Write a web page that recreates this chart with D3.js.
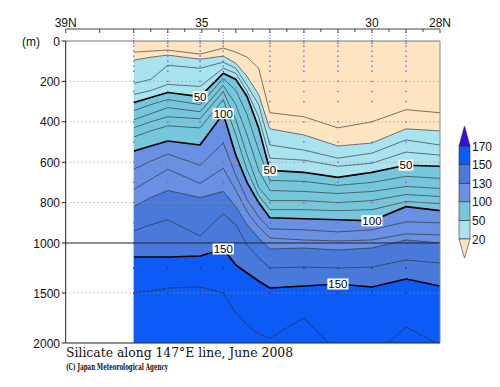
<!DOCTYPE html>
<html><head><meta charset="utf-8">
<script src="https://cdn.jsdelivr.net/npm/d3@7"></script>
<style>body{margin:0;background:#fff}svg{display:block}</style>
</head><body>
<svg id="c" width="500" height="387"></svg>
<script>
// grid nodes along the section (latitude, deg N)
const lats = [37, 36.5, 36, 35.05, 34.37, 34, 33.67, 33.33, 33, 32, 31, 30, 29, 28];
// depth (m) of each silicate isoline at every node
const d10  = [55, 50, 45, 65, 35, 55, 80, 135, 355, 375, 430, 400, 340, 355];
const d20  = [95, 80, 70, 90, 75, 110, 175, 265, 435, 465, 520, 505, 435, 445];
const d30  = [210, 190, 120, 135, 105, 135, 220, 315, 515, 540, 580, 555, 490, 515];
const d40  = [265, 245, 215, 225, 135, 160, 250, 375, 580, 590, 620, 605, 550, 565];
const d50  = [305, 280, 255, 275, 160, 190, 275, 430, 640, 650, 675, 650, 615, 620];
const d60  = [345, 315, 290, 315, 185, 245, 365, 540, 690, 695, 715, 700, 670, 680];
const d70  = [390, 360, 330, 350, 220, 315, 465, 640, 740, 745, 755, 745, 720, 730];
const d80  = [430, 400, 375, 385, 250, 390, 565, 725, 790, 790, 800, 790, 760, 770];
const d90  = [475, 445, 420, 430, 290, 465, 640, 765, 835, 835, 840, 835, 795, 805];
const d100 = [545, 520, 495, 515, 360, 565, 700, 800, 875, 880, 885, 890, 820, 840];
const d110 = [635, 595, 560, 615, 505, 665, 785, 870, 930, 935, 945, 935, 895, 900];
const d120 = [735, 685, 635, 705, 630, 740, 845, 920, 975, 985, 990, 985, 955, 960];
const d130 = [820, 775, 740, 775, 745, 820, 910, 975, 1060, 1050, 1070, 1050, 985, 1000];
const d140 = [940, 910, 885, 965, 855, 910, 1020, 1150, 1250, 1240, 1250, 1240, 1170, 1200];
const d150 = [1140, 1140, 1140, 1130, 1060, 1220, 1300, 1380, 1450, 1430, 1410, 1440, 1360, 1430];
const d160 = [1500, 1480, 1450, 1440, 1500, 1700, 1820, 1910, 1950, 1750, 2100, 2150, 1840, 2020];
const levels = [10, 20, 30, 40, 50, 60, 70, 80, 90, 100, 110, 120, 130, 140, 150, 160];
const isolines = [d10, d20, d30, d40, d50, d60, d70, d80, d90, d100, d110, d120, d130, d140, d150, d160];

// observation stations and sampled depths
const stations = [37, 36, 35.05, 34.37, 33, 32, 31, 30, 29];
const sampleDepths = [0, 10, 25, 50, 75, 100, 125, 150, 200, 250, 300, 400, 500, 600, 700, 800, 900, 1000, 1250, 1500];

// axes
const xLabelLats = [39, 35, 30, 28];
const xLabelTexts = ["39N", "35", "30", "28N"];
const xMajorTicks = [39, 38, 37, 36, 35, 34, 33, 32, 31, 30, 29, 28];
const xMinorTicks = [36.5, 35.5, 34.5, 33.5, 32.5, 31.5, 30.5, 29.5, 28.5];
const yTicks = [0, 200, 400, 600, 800, 1000, 1500, 2000];
const gridDepths = [200, 400, 600, 800, 1500];

// colour bands
const bandBounds = [20, 50, 100, 130, 150, 170];
const bandColors = ["#fde5c1", "#aae3f0", "#77c7dc", "#6990e2", "#497adb", "#0c5bf6", "#3d08e6"];

// contour labels
const labelLevels = [50, 100, 50, 50, 100, 150, 150];
const labelLats = [35.05, 34.37, 33, 29, 30, 34.37, 31];

const svg = d3.select("#c");
const x = d3.scaleLinear().domain([39, 28]).range([65.7, 440]);
const y = d3.scaleLinear().domain([0, 1000, 2000]).range([41, 243, 343]);
const X0 = x(37), X1 = x(28), Y0 = y(0), Y1 = y(2000);

svg.append("defs").append("clipPath").attr("id", "pc")
  .append("rect").attr("x", X0).attr("y", Y0).attr("width", X1 - X0).attr("height", Y1 - Y0);

const colorFor = L => bandColors[bandBounds.filter(b => b <= L).length];

const plot = svg.append("g").attr("clip-path", "url(#pc)");
plot.append("rect").attr("x", X0).attr("y", Y0).attr("width", X1 - X0).attr("height", Y1 - Y0)
  .attr("fill", bandColors[0]);

const area = arr => d3.area().x((d, i) => x(lats[i])).y0((d) => y(d)).y1(Y1 + 40)(arr);
const line = arr => d3.line().x((d, i) => x(lats[i])).y(d => y(d))(arr);

levels.forEach((L, k) => {
  plot.append("path").attr("d", area(isolines[k])).attr("fill", colorFor(L));
});

// dotted grid lines
gridDepths.forEach(g => {
  svg.append("line").attr("x1", x(39)).attr("x2", X1).attr("y1", y(g)).attr("y2", y(g))
    .attr("stroke", "#9a9a9a").attr("stroke-width", 1).attr("stroke-dasharray", "1,3");
});

// sample dots
stations.forEach(s => {
  sampleDepths.forEach(dp => {
    svg.append("rect").attr("x", x(s) - 0.7).attr("y", y(dp) - 0.7).attr("width", 1.4).attr("height", 1.4)
      .attr("fill", dp > 1000 ? "#2a2a80" : "#7a55ff");
  });
});

// contour lines
levels.forEach((L, k) => {
  const thick = L % 50 === 0;
  plot.append("path").attr("d", line(isolines[k])).attr("fill", "none")
    .attr("stroke", thick ? "#000" : "#2e2e2e")
    .attr("stroke-opacity", thick ? 1 : 0.8)
    .attr("stroke-width", thick ? 1.7 : 0.8)
    .attr("stroke-linejoin", "round");
});

// 1000 m line across
svg.append("line").attr("x1", x(39)).attr("x2", X1).attr("y1", y(1000)).attr("y2", y(1000))
  .attr("stroke", "#222").attr("stroke-width", 1.2);

// contour labels
labelLevels.forEach((L, i) => {
  const k = levels.indexOf(L);
  const j = lats.indexOf(labelLats[i]);
  const px = x(labelLats[i]), py = y(isolines[k][j]);
  const t = svg.append("text").attr("x", px).attr("y", py + 4).attr("text-anchor", "middle")
    .attr("font-family", "Liberation Sans, Arial, sans-serif").attr("font-size", 11.5).text(L);
  const bb = t.node().getBBox();
  svg.insert("rect", () => t.node()).attr("x", bb.x - 1).attr("y", py - 5.5).attr("width", bb.width + 2).attr("height", 11)
    .attr("fill", "#fff");
});

// frame
svg.append("line").attr("x1", x(39)).attr("x2", X1).attr("y1", Y0).attr("y2", Y0).attr("stroke", "#777").attr("stroke-width", 1);
svg.append("line").attr("x1", X1).attr("x2", X1).attr("y1", Y0).attr("y2", Y1).attr("stroke", "#888").attr("stroke-width", 1);
svg.append("line").attr("x1", x(39)).attr("x2", X1).attr("y1", Y1).attr("y2", Y1).attr("stroke", "#222").attr("stroke-width", 1);
svg.append("line").attr("x1", x(39)).attr("x2", x(39)).attr("y1", Y0).attr("y2", Y1).attr("stroke", "#222").attr("stroke-width", 1);

// top axis
const TA = 29;
svg.append("line").attr("x1", x(39)).attr("x2", X1).attr("y1", TA).attr("y2", TA).attr("stroke", "#444");
xMajorTicks.forEach(t => svg.append("line").attr("x1", x(t)).attr("x2", x(t)).attr("y1", TA).attr("y2", TA + 4).attr("stroke", "#444"));
xMinorTicks.forEach(t => svg.append("line").attr("x1", x(t)).attr("x2", x(t)).attr("y1", TA).attr("y2", TA + 3).attr("stroke", "#444"));
stations.forEach(s => svg.append("line").attr("x1", x(s)).attr("x2", x(s)).attr("y1", TA).attr("y2", Y0)
  .attr("stroke", "#7a55ff").attr("stroke-width", 1).attr("stroke-dasharray", "1,2"));
xLabelLats.forEach((l, i) => svg.append("text").attr("x", x(l)).attr("y", 27).attr("text-anchor", "middle")
  .attr("font-family", "Liberation Sans, Arial, sans-serif").attr("font-size", 12).attr("fill", "#111").text(xLabelTexts[i]));

// left axis
yTicks.forEach(t => {
  svg.append("line").attr("x1", x(39) - 4).attr("x2", x(39)).attr("y1", y(t)).attr("y2", y(t)).attr("stroke", "#222");
  svg.append("text").attr("x", 60).attr("y", y(t) + 4.5).attr("text-anchor", "end")
    .attr("font-family", "Liberation Sans, Arial, sans-serif").attr("font-size", 12).attr("fill", "#111").text(t);
});
svg.append("text").attr("x", 22).attr("y", 45.5).attr("font-family", "Liberation Sans, Arial, sans-serif")
  .attr("font-size", 12).attr("fill", "#111").text("(m)");

// colour bar
const cb = d3.scalePoint().domain(bandBounds).range([239, 146]);
const cbx = 459, cbw = 11;
const cbG = svg.append("g");
for (let i = 0; i < bandBounds.length - 1; i++) {
  cbG.append("rect").attr("x", cbx).attr("y", cb(bandBounds[i + 1])).attr("width", cbw)
    .attr("height", cb(bandBounds[i]) - cb(bandBounds[i + 1])).attr("fill", bandColors[i + 1])
    .attr("stroke", "#333").attr("stroke-width", 0.6);
}
cbG.append("path").attr("d", `M${cbx},${cb(170)}L${cbx + cbw / 2},${cb(170) - 20}L${cbx + cbw},${cb(170)}Z`)
  .attr("fill", bandColors[6]).attr("stroke", "#333").attr("stroke-width", 0.6);
cbG.append("path").attr("d", `M${cbx},${cb(20)}L${cbx + cbw / 2},${cb(20) + 19}L${cbx + cbw},${cb(20)}Z`)
  .attr("fill", bandColors[0]).attr("stroke", "#333").attr("stroke-width", 0.6);
bandBounds.forEach(b => cbG.append("text").attr("x", 472).attr("y", cb(b) + 4.5)
  .attr("font-family", "Liberation Sans, Arial, sans-serif").attr("font-size", 12).attr("fill", "#111").text(b));

// titles
svg.append("text").attr("x", 66).attr("y", 357).attr("font-family", "DejaVu Serif, serif").attr("font-size", 13)
  .attr("textLength", 227).attr("lengthAdjust", "spacingAndGlyphs").attr("fill", "#111")
  .text("Silicate along 147°E line, June 2008");
svg.append("text").attr("x", 66).attr("y", 369.5).attr("font-family", "DejaVu Serif, serif").attr("font-size", 9)
  .attr("font-weight", "bold").attr("textLength", 102).attr("lengthAdjust", "spacingAndGlyphs").attr("fill", "#111")
  .text("(C) Japan Meteorological Agency");
</script>
</body></html>
